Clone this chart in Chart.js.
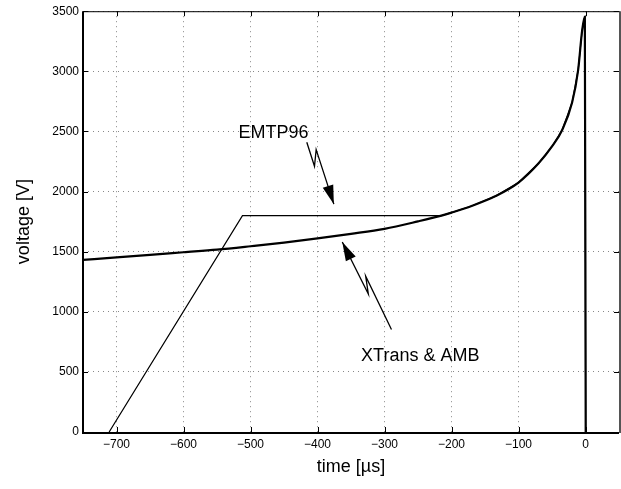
<!DOCTYPE html>
<html>
<head>
<meta charset="utf-8">
<script src="https://cdn.jsdelivr.net/npm/chart.js@4"></script>
<style>
  html, body { margin: 0; padding: 0; background: #fff; }
  #wrap { width: 621px; height: 489px; }
</style>
</head>
<body>
<div id="wrap"><canvas id="chart" width="621" height="489"></canvas></div>
<script>
// XTrans & AMB (thick curve)
const xtransX = [-750, -700, -650, -600, -550, -500, -450, -400, -350, -300, -250, -215, -200, -170, -135, -100, -70, -50, -35, -20, -11, -5, -1, 0.3];
const xtransY = [1432, 1452, 1473, 1495, 1517, 1545, 1575, 1610, 1648, 1690, 1752, 1800, 1825, 1880, 1960, 2075, 2235, 2375, 2510, 2740, 3010, 3340, 3455, 0];

// EMTP96 (thin line)
const emtpX = [-711, -512, -215, -200, -170, -135, -100, -70, -50, -35, -20, -11, -5, -1, 0.3];
const emtpY = [0, 1800, 1800, 1825, 1880, 1960, 2075, 2235, 2375, 2510, 2740, 3010, 3340, 3455, 0];

const xTicks = [-700, -600, -500, -400, -300, -200, -100, 0];
const yTicks = [0, 500, 1000, 1500, 2000, 2500, 3000, 3500];

// annotation arrows (data units)
const emtpLabel = { text: 'EMTP96', x: -518, y: 2443 };
const emtpBolt = [[-416, 2410], [-404.5, 2210], [-402, 2349], [-375.6, 1895]];
const xtransLabel = { text: 'XTrans & AMB', x: -335, y: 590 };
const xtransBolt = [[-289.6, 853], [-328.1, 1296], [-324.1, 1147], [-363, 1581]];

const FONT = "'Liberation Sans', Arial, Helvetica, sans-serif";

const toPoints = (xs, ys) => xs.map((x, i) => ({ x: x, y: ys[i] }));

const frame = {
  id: 'frame',
  afterDraw(chart) {
    const { ctx, chartArea: a, scales: { x, y } } = chart;
    ctx.save();

    // inward ticks on all four sides
    ctx.strokeStyle = '#000';
    ctx.lineWidth = 1;
    ctx.beginPath();
    xTicks.forEach(v => {
      const px = Math.round(x.getPixelForValue(v)) + 0.5;
      ctx.moveTo(px, a.bottom); ctx.lineTo(px, a.bottom - 5);
      ctx.moveTo(px, a.top); ctx.lineTo(px, a.top + 5);
    });
    yTicks.forEach(v => {
      const py = Math.round(y.getPixelForValue(v)) + 0.5;
      ctx.moveTo(a.left, py); ctx.lineTo(a.left + 5, py);
      ctx.moveTo(a.right, py); ctx.lineTo(a.right - 5, py);
    });
    ctx.stroke();

    // box
    ctx.lineWidth = 1;
    ctx.strokeRect(a.left + 0.5, a.top + 0.5, a.right - a.left, a.bottom - a.top);
    ctx.lineWidth = 2;
    ctx.beginPath();
    ctx.moveTo(a.left, a.top); ctx.lineTo(a.left, a.bottom + 1); ctx.lineTo(a.right, a.bottom + 1);
    ctx.stroke();
    ctx.strokeStyle = '#555';
    ctx.beginPath();
    ctx.moveTo(a.right + 1, a.top); ctx.lineTo(a.right + 1, a.bottom + 1);
    ctx.stroke();

    // annotations
    const drawBolt = (pts) => {
      const p = pts.map(([vx, vy]) => [x.getPixelForValue(vx), y.getPixelForValue(vy)]);
      ctx.strokeStyle = '#000';
      ctx.lineWidth = 1.3;
      ctx.beginPath();
      ctx.moveTo(p[0][0], p[0][1]);
      for (let i = 1; i < p.length; i++) ctx.lineTo(p[i][0], p[i][1]);
      ctx.stroke();
      const [tx, ty] = p[p.length - 1];
      const [fx, fy] = p[p.length - 2];
      const ang = Math.atan2(ty - fy, tx - fx);
      const len = 19, hw = 5.5;
      const bx = tx - len * Math.cos(ang), by = ty - len * Math.sin(ang);
      ctx.fillStyle = '#000';
      ctx.beginPath();
      ctx.moveTo(tx, ty);
      ctx.lineTo(bx + hw * Math.sin(ang), by - hw * Math.cos(ang));
      ctx.lineTo(bx - hw * Math.sin(ang), by + hw * Math.cos(ang));
      ctx.closePath();
      ctx.fill();
    };
    drawBolt(emtpBolt);
    drawBolt(xtransBolt);

    ctx.fillStyle = '#000';
    ctx.font = '18px ' + FONT;
    ctx.textAlign = 'left';
    ctx.textBaseline = 'alphabetic';
    [emtpLabel, xtransLabel].forEach(l => {
      ctx.fillText(l.text, x.getPixelForValue(l.x), y.getPixelForValue(l.y));
    });

    // axis titles
    ctx.textAlign = 'center';
    ctx.textBaseline = 'middle';
    ctx.fillText('time [µs]', (a.left + a.right) / 2, 467);
    ctx.translate(24, (a.top + a.bottom) / 2);
    ctx.rotate(-Math.PI / 2);
    ctx.fillText('voltage [V]', 0, 0);

    ctx.restore();
  }
};

new Chart(document.getElementById('chart'), {
  type: 'scatter',
  data: {
    datasets: [
      {
        label: 'XTrans & AMB',
        data: toPoints(xtransX, xtransY),
        showLine: true,
        borderColor: '#000',
        borderWidth: 2.2,
        pointRadius: 0,
        cubicInterpolationMode: 'monotone'
      },
      {
        label: 'EMTP96',
        data: toPoints(emtpX, emtpY),
        showLine: true,
        borderColor: '#000',
        borderWidth: 1.2,
        pointRadius: 0,
        tension: 0
      }
    ]
  },
  options: {
    responsive: false,
    devicePixelRatio: 1,
    animation: false,
    layout: { padding: { top: 10, right: 2, left: 0, bottom: 0 } },
    plugins: {
      legend: { display: false },
      tooltip: { enabled: false }
    },
    scales: {
      x: {
        type: 'linear',
        min: -750,
        max: 50,
        afterBuildTicks: s => { s.ticks = xTicks.map(v => ({ value: v })); },
        afterFit: s => { s.height = 57; },
        ticks: {
          autoSkip: false,
          maxRotation: 0,
          padding: 5,
          color: '#000',
          font: { family: FONT, size: 12 },
          callback: v => String(v).replace('-', '\u2212')
        },
        grid: { color: '#888', lineWidth: 1, drawTicks: false },
        border: { display: false, dash: [1, 4] }
      },
      y: {
        min: 0,
        max: 3500,
        afterBuildTicks: s => { s.ticks = yTicks.map(v => ({ value: v })); },
        afterFit: s => { s.width = 83; },
        ticks: {
          autoSkip: false,
          padding: 4,
          color: '#000',
          font: { family: FONT, size: 12 },
          callback: v => String(v)
        },
        grid: { color: '#888', lineWidth: 1, drawTicks: false },
        border: { display: false, dash: [1, 4] }
      }
    }
  },
  plugins: [frame]
});
</script>
</body>
</html>
